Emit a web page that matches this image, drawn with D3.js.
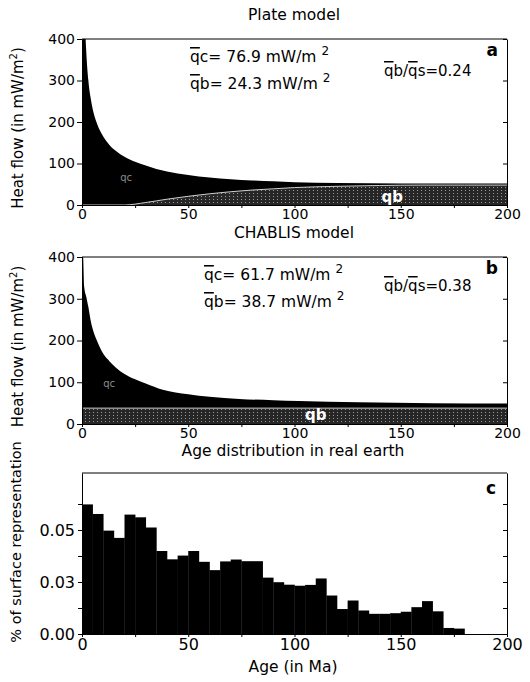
<!DOCTYPE html>
<html>
<head>
<meta charset="utf-8">
<script src="https://cdn.jsdelivr.net/npm/d3@7"></script>
<style>
    body { margin: 0; background: #fff; }
    text { font-family: "DejaVu Sans", sans-serif; fill: #000; }
    .axis path, .axis line { stroke: #000; stroke-width: 1; }
    .axis text { font-family: "DejaVu Sans", sans-serif; }
</style>
</head>
<body>
<div class="container"></div>
<script>
// plate model, surface heat flow (mW/m2) against age (Ma)
var plateAge = [0.3, 1, 1.7, 2, 3, 4, 5, 7, 10, 13, 16, 20, 25, 30, 35, 40, 50, 60, 70, 80, 90, 100, 120, 150, 200];
var plateQs  = [700, 520, 400, 370, 300, 260, 232, 197, 165, 144, 130, 116, 104, 95, 87, 81, 72, 66, 62, 59, 57, 55, 53, 52, 52];
// plate model, basal heat flow
var plateQbAge = [0, 20, 30, 40, 50, 60, 70, 80, 90, 100, 120, 140, 160, 180, 200];
var plateQb    = [0, 0, 6, 14, 21, 27, 32, 36, 39, 42, 45, 47, 48, 48, 48];

// CHABLIS model
var chabAge = [0, 0.5, 1, 2, 3, 4, 5, 7, 10, 13, 16, 20, 25, 30, 38, 50, 60, 74, 90, 102, 130, 165, 200];
var chabQs  = [400, 400, 330, 305, 280, 250, 228, 200, 168, 150, 135, 120, 107, 97, 82, 71, 65, 60, 57, 55, 52, 50, 49];
var chabQbAge = [0, 50, 100, 150, 200];
var chabQb    = [38, 38, 38, 38, 38];

// age distribution in real earth, 5 Ma bins
var binStart = [0, 5, 10, 15, 20, 25, 30, 35, 40, 45, 50, 55, 60, 65, 70, 75, 80, 85, 90, 95,
    100, 105, 110, 115, 120, 125, 130, 135, 140, 145, 150, 155, 160, 165, 170, 175];
var binShare = [0.0623, 0.0577, 0.0497, 0.0462, 0.0574, 0.0561, 0.0512, 0.0399, 0.0359, 0.0377,
    0.0399, 0.0347, 0.0307, 0.0349, 0.0358, 0.0350, 0.0350, 0.0271, 0.0249, 0.0237,
    0.0232, 0.0236, 0.0267, 0.0185, 0.0120, 0.0161, 0.0113, 0.0097, 0.0097, 0.0100,
    0.0107, 0.0129, 0.0158, 0.0109, 0.0029, 0.0026];

var ageTicks = [0, 25, 50, 75, 100, 125, 150, 175, 200];
var heatTicks = [0, 100, 200, 300, 400];
var shareTicks = [0, 0.0125, 0.025, 0.0375, 0.05, 0.0625];

var plateNumbers = ['76.9', '24.3', '0.24'];
var chabNumbers = ['61.7', '38.7', '0.38'];

const WIDTH = 530;
const HEIGHT = 682;
const X0 = 82;
const X1 = 507;

var svg = d3.select('.container').append('svg')
    .attr('width', WIDTH)
    .attr('height', HEIGHT);

var defs = svg.append('defs');
var speck = defs.append('pattern')
    .attr('id', 'speck')
    .attr('width', 4).attr('height', 3)
    .attr('patternUnits', 'userSpaceOnUse');
speck.append('rect').attr('width', 4).attr('height', 3).attr('fill', '#262626');
speck.append('rect').attr('x', 1).attr('y', 1).attr('width', 1).attr('height', 1).attr('fill', '#9a9a9a');

var x = d3.scaleLinear().domain([0, 200]).range([X0, X1]);

var zip = function (a, b) {
    return a.map(function (d, i) { return [d, b[i]]; });
};

var ageAxis = function (g, bottom, size, pad) {
    g.append('g')
        .attr('class', 'axis')
        .attr('transform', 'translate(0,' + bottom + ')')
        .call(d3.axisBottom(x).tickValues(ageTicks).tickSize(3).tickPadding(pad).tickSizeOuter(0)
            .tickFormat(function (d) { return d % 50 === 0 ? d : ''; }))
        .selectAll('text').style('font-size', size + 'px');
};

var frame = function (g, y, ticks) {
    // right border with inward ticks, plus a top border
    g.append('g')
        .attr('class', 'axis')
        .attr('transform', 'translate(' + X1 + ',0)')
        .call(d3.axisLeft(y).tickValues(ticks).tickSize(4).tickSizeOuter(0).tickFormat(''));
    g.append('line')
        .attr('x1', X0).attr('x2', X1)
        .attr('y1', y.range()[1]).attr('y2', y.range()[1])
        .attr('stroke', '#000');
};

var heatPanel = function (id, top, bottom, age, qs, qbAge, qb, nums, letter, title, qbLabel, qcLabel) {
    var y = d3.scaleLinear().domain([0, 400]).range([bottom, top]);
    var g = svg.append('g');

    g.append('text')
        .attr('x', 294).attr('y', top - 19)
        .attr('text-anchor', 'middle')
        .style('font-size', '15.5px')
        .text(title);

    defs.append('clipPath').attr('id', 'clip' + id)
        .append('rect')
        .attr('x', X0).attr('y', top)
        .attr('width', X1 - X0).attr('height', bottom - top);

    var plot = g.append('g').attr('clip-path', 'url(#clip' + id + ')');

    var area = d3.area()
        .x(function (d) { return x(d[0]); })
        .y0(y(0))
        .y1(function (d) { return y(d[1]); })
        .curve(d3.curveMonotoneX);

    plot.append('path')
        .datum(zip(age, qs))
        .attr('d', area)
        .attr('fill', '#000');

    plot.append('path')
        .datum(zip(qbAge, qb))
        .attr('d', area)
        .attr('fill', 'url(#speck)');

    plot.append('path')
        .datum(zip(qbAge, qb))
        .attr('d', area.lineY1())
        .attr('fill', 'none')
        .attr('stroke', '#cfcfcf')
        .attr('stroke-width', 1);

    plot.append('text')
        .attr('x', x(qbLabel[0])).attr('y', y(qbLabel[1]))
        .attr('text-anchor', 'middle')
        .style('font-size', '15px').style('font-weight', 'bold')
        .style('fill', '#fff')
        .text('qb');

    plot.append('text')
        .attr('x', x(qcLabel[0])).attr('y', y(qcLabel[1]))
        .style('font-size', '10px')
        .style('fill', '#8a8a8a')
        .text('qc');

    g.append('g')
        .attr('class', 'axis')
        .attr('transform', 'translate(' + X0 + ',0)')
        .call(d3.axisLeft(y).tickValues(heatTicks).tickSize(5).tickPadding(2).tickSizeOuter(0))
        .selectAll('text').style('font-size', '14px');

    ageAxis(g, bottom, 14, 1);
    frame(g, y, heatTicks);

    // mean values
    var lines = [['c', nums[0]], ['b', nums[1]]];
    lines.forEach(function (l, i) {
        var t = g.append('text')
            .attr('x', 190 + (id === 'b' ? 14 : 0))
            .attr('y', top + 23 + i * 27)
            .style('font-size', '15.5px');
        t.append('tspan').style('text-decoration', 'overline').text('q');
        t.append('tspan').text(l[0] + '= ' + l[1] + ' mW/m ');
        t.append('tspan').attr('dy', -7).style('font-size', '12px').text('2');
    });

    var r = g.append('text')
        .attr('x', 384).attr('y', top + 37 + (id === 'b' ? -3 : 0))
        .style('font-size', '15px');
    r.append('tspan').style('text-decoration', 'overline').text('q');
    r.append('tspan').text('b/');
    r.append('tspan').style('text-decoration', 'overline').text('q');
    r.append('tspan').text('s=' + nums[2]);

    g.append('text')
        .attr('x', 498).attr('y', top + 17)
        .attr('text-anchor', 'end')
        .style('font-size', '17px').style('font-weight', 'bold')
        .text(letter);

    var lab = g.append('text')
        .attr('transform', 'translate(23,' + ((top + bottom) / 2 + 6) + ') rotate(-90)')
        .attr('text-anchor', 'middle')
        .style('font-size', '15px');
    lab.append('tspan').text('Heat flow (in mW/m');
    lab.append('tspan').attr('dy', -6).style('font-size', '10px').text('2');
    lab.append('tspan').attr('dy', 6).text(')');
};

heatPanel('a', 39, 205, plateAge, plateQs, plateQbAge, plateQb, plateNumbers, 'a', 'Plate model', [146, 8], [18, 58]);
heatPanel('b', 257, 424, chabAge, chabQs, chabQbAge, chabQb, chabNumbers, 'b', 'CHABLIS model', [110, 9], [10, 88]);

// age distribution panel
var yc = d3.scaleLinear().domain([0, 0.0774]).range([634, 473]);
var gc = svg.append('g');

gc.append('text')
    .attr('x', 293).attr('y', 456)
    .attr('text-anchor', 'middle')
    .style('font-size', '15.5px')
    .text('Age distribution in real earth');

gc.selectAll('rect').data(binStart)
    .enter().append('rect')
    .attr('x', function (d) { return x(d); })
    .attr('width', x(5) - x(0) + 0.3)
    .attr('y', function (d, i) { return yc(binShare[i]); })
    .attr('height', function (d, i) { return yc(0) - yc(binShare[i]); })
    .attr('fill', '#000');

gc.append('g')
    .attr('class', 'axis')
    .attr('transform', 'translate(' + X0 + ',0)')
    .call(d3.axisLeft(yc).tickValues(shareTicks).tickSize(4).tickPadding(3).tickSizeOuter(0)
        .tickFormat(function (d, i) { return i % 2 === 0 ? d3.format('.2f')(d) : ''; }))
    .selectAll('text').style('font-size', '16px');

ageAxis(gc, 634, 16, 2);
frame(gc, yc, shareTicks);

gc.append('text')
    .attr('x', 496).attr('y', 494)
    .attr('text-anchor', 'end')
    .style('font-size', '17px').style('font-weight', 'bold')
    .text('c');

gc.append('text')
    .attr('transform', 'translate(21,542) rotate(-90)')
    .attr('text-anchor', 'middle')
    .style('font-size', '14.5px')
    .text('% of surface representation');

gc.append('text')
    .attr('x', 293).attr('y', 672)
    .attr('text-anchor', 'middle')
    .style('font-size', '15.5px')
    .text('Age (in Ma)');
</script>
</body>
</html>
